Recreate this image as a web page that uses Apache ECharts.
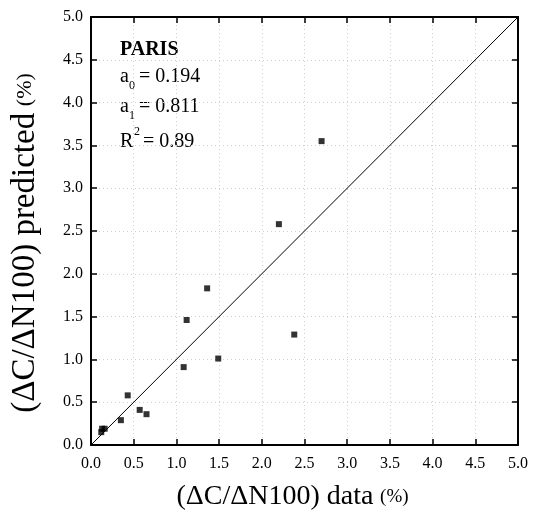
<!DOCTYPE html>
<html>
<head>
<meta charset="utf-8">
<script src="https://cdn.jsdelivr.net/npm/echarts@6/dist/echarts.min.js"></script>
<style>
  html, body { margin: 0; padding: 0; background: #fff; }
  #chart { width: 540px; height: 524px; }
</style>
</head>
<body>
<div id="chart"></div>
<script>
// measured vs predicted (%)
var dataX = [0.12, 0.13, 0.16, 0.35, 0.43, 0.57, 0.65, 1.085, 1.12, 1.36, 1.49, 2.2, 2.38, 2.7];
var dataY = [0.15, 0.19, 0.19, 0.29, 0.58, 0.41, 0.36, 0.91, 1.46, 1.83, 1.01, 2.58, 1.29, 3.55];
var lineX = [0, 5];
var lineY = [0, 5];
var axisMin = 0, axisMax = 5, axisStep = 0.5;

var font = 'Liberation Serif';

var points = [];
for (var i = 0; i < dataX.length; i++) {
    points.push([dataX[i], dataY[i]]);
}
var oneToOne = [[lineX[0], lineY[0]], [lineX[1], lineY[1]]];

function mainAxis(name, gap, isY) {
    return {
        type: 'value',
        min: axisMin,
        max: axisMax,
        interval: axisStep,
        name: name,
        nameLocation: 'middle',
        nameGap: gap,
        nameTextStyle: {
            // push the titles off-centre like the original
            padding: isY ? [0, 24, 0, 0] : [0, 24, 0, 0],
            rich: {
                a: { fontFamily: font, fontSize: isY ? 33 : 28, color: '#000' },
                b: { fontFamily: font, fontSize: isY ? 22 : 19, color: '#000' }
            }
        },
        axisLine: { onZero: false, lineStyle: { color: '#000', width: 2 } },
        axisTick: { inside: true, length: 6, lineStyle: { color: '#000', width: 1.5 } },
        axisLabel: {
            fontFamily: font, fontSize: 16, color: '#000',
            margin: isY ? 8 : 11,
            formatter: function(v) { return v.toFixed(1); }
        },
        splitLine: { show: true, lineStyle: { color: '#cfcfcf', type: [1, 3], width: 1 } }
    };
}

function mirrorAxis(pos) {
    return {
        type: 'value',
        position: pos,
        min: axisMin,
        max: axisMax,
        interval: axisStep,
        axisLine: { onZero: false, lineStyle: { color: '#000', width: 2 } },
        axisTick: { inside: true, length: 6, lineStyle: { color: '#000', width: 1.5 } },
        axisLabel: { show: false },
        splitLine: { show: false }
    };
}

var option = {
    animation: false,
    backgroundColor: '#fff',
    grid: { left: 91, top: 17, right: 22, bottom: 79 },
    xAxis: [mainAxis('{a|(ΔC/ΔN100) data}  {b|(%)}', 38, false), mirrorAxis('top')],
    yAxis: [mainAxis('{a|(ΔC/ΔN100) predicted}  {b|(%)}', 49, true), mirrorAxis('right')],
    series: [
        {
            type: 'line',
            data: oneToOne,
            symbol: 'none',
            lineStyle: { color: '#000', width: 1 },
            z: 2
        },
        {
            type: 'scatter',
            data: points,
            symbol: 'rect',
            symbolSize: 6,
            itemStyle: { color: '#000' },
            z: 3
        }
    ],
    graphic: [
        { type: 'text', left: 120, top: 40, style: { text: 'PARIS', font: 'bold 20px ' + font, fill: '#000' } },
        { type: 'text', left: 120, top: 67, style: { text: 'a', font: '20px ' + font, fill: '#000' } },
        { type: 'text', left: 129, top: 80, style: { text: '0', font: '12px ' + font, fill: '#000' } },
        { type: 'text', left: 139, top: 67, style: { text: '= 0.194', font: '20px ' + font, fill: '#000' } },
        { type: 'text', left: 120, top: 97, style: { text: 'a', font: '20px ' + font, fill: '#000' } },
        { type: 'text', left: 129, top: 110, style: { text: '1', font: '12px ' + font, fill: '#000' } },
        { type: 'text', left: 139, top: 97, style: { text: '= 0.811', font: '20px ' + font, fill: '#000' } },
        { type: 'text', left: 120, top: 132, style: { text: 'R', font: '20px ' + font, fill: '#000' } },
        { type: 'text', left: 134, top: 126, style: { text: '2', font: '12px ' + font, fill: '#000' } },
        { type: 'text', left: 143, top: 132, style: { text: '= 0.89', font: '20px ' + font, fill: '#000' } }
    ]
};

var chart = echarts.init(document.getElementById('chart'));
chart.setOption(option);
</script>
</body>
</html>
